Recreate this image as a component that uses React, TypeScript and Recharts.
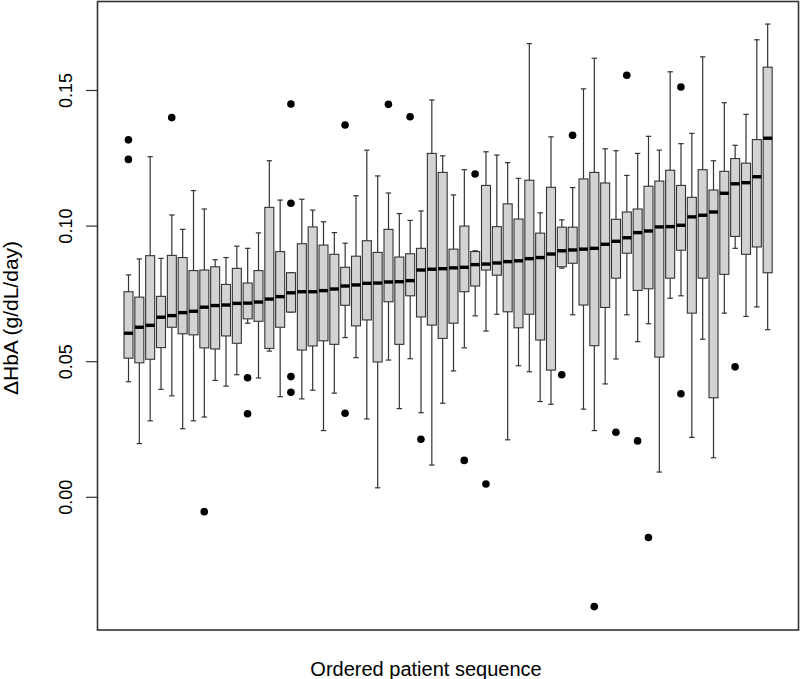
import React from "react";
import { Bar, ComposedChart, Scatter, XAxis, YAxis } from "recharts";

// per-patient box statistics, left to right (ordered by median)
const lows = [
  0.0426, 0.0198, 0.0282, 0.0398, 0.0374, 0.0253, 0.0282, 0.0296, 0.0431, 0.041,
  0.0452, 0.0642, 0.044, 0.0539, 0.0371, 0.0683, 0.0363, 0.0395, 0.0246, 0.0384,
  0.0589, 0.0515, 0.0289, 0.0035, 0.0506, 0.0327, 0.0511, 0.0312, 0.0119, 0.0347,
  0.0466, 0.0551, 0.0669, 0.0613, 0.0675, 0.0212, 0.0485, 0.0463, 0.0353, 0.0343,
  0.0845, 0.0673, 0.0325, 0.0246, 0.0418, 0.051, 0.0673, 0.0574, 0.064, 0.0093,
  0.0734, 0.0743, 0.0221, 0.0583, 0.0146, 0.0679, 0.0918, 0.0667, 0.0702, 0.0618,
];
const q1s = [
  0.0513, 0.0496, 0.0509, 0.0552, 0.0627, 0.0603, 0.0599, 0.0551, 0.0547, 0.0595,
  0.0568, 0.0658, 0.0649, 0.0549, 0.0627, 0.0683, 0.0543, 0.0558, 0.0577, 0.0564,
  0.0708, 0.0632, 0.0654, 0.0499, 0.0721, 0.0564, 0.0743, 0.0665, 0.0635, 0.0586,
  0.0642, 0.0758, 0.0779, 0.0838, 0.0819, 0.0684, 0.0625, 0.0675, 0.058, 0.0469,
  0.085, 0.0863, 0.0709, 0.0559, 0.07, 0.0808, 0.09, 0.0763, 0.0769, 0.0517,
  0.0808, 0.0911, 0.0679, 0.0808, 0.0367, 0.0822, 0.0962, 0.0896, 0.0923, 0.0828,
];
const medians = [
  0.0605, 0.0627, 0.0634, 0.0664, 0.067, 0.0681, 0.0686, 0.0701, 0.0707, 0.0709,
  0.0715, 0.0716, 0.072, 0.0731, 0.074, 0.0754, 0.0758, 0.0758, 0.0762, 0.0768,
  0.0779, 0.0783, 0.0789, 0.079, 0.0794, 0.0795, 0.0799, 0.0838, 0.0841, 0.0843,
  0.0846, 0.0848, 0.0858, 0.086, 0.0864, 0.0869, 0.0872, 0.088, 0.0884, 0.0897,
  0.0909, 0.0912, 0.0915, 0.0918, 0.0933, 0.0944, 0.0957, 0.0976, 0.0982, 0.0997,
  0.0998, 0.1003, 0.1034, 0.104, 0.1052, 0.1121, 0.1156, 0.116, 0.1182, 0.1324,
];
const q3s = [
  0.0758, 0.0738, 0.0891, 0.0741, 0.0892, 0.0884, 0.0836, 0.0838, 0.085, 0.0785,
  0.0844, 0.079, 0.0836, 0.1069, 0.0906, 0.0828, 0.0935, 0.0997, 0.093, 0.0896,
  0.0848, 0.0889, 0.0946, 0.0903, 0.0988, 0.0886, 0.0898, 0.0918, 0.1268, 0.1198,
  0.0915, 0.1, 0.0906, 0.115, 0.0998, 0.1082, 0.1026, 0.1169, 0.0974, 0.1143,
  0.0996, 0.0996, 0.1174, 0.1198, 0.1159, 0.1025, 0.1052, 0.1063, 0.1147, 0.1166,
  0.1206, 0.115, 0.1106, 0.1208, 0.1133, 0.1202, 0.1249, 0.1232, 0.1319, 0.1586,
];
const highs = [
  0.082, 0.0879, 0.1256, 0.0881, 0.1041, 0.0988, 0.1131, 0.1063, 0.0876, 0.0884,
  0.0926, 0.0918, 0.0975, 0.1241, 0.1096, 0.0828, 0.1099, 0.1059, 0.1016, 0.0976,
  0.0937, 0.1112, 0.128, 0.1185, 0.1122, 0.1046, 0.1021, 0.1056, 0.1465, 0.1259,
  0.1115, 0.1208, 0.0909, 0.1274, 0.1262, 0.1234, 0.1176, 0.1673, 0.1049, 0.1329,
  0.1023, 0.1142, 0.1506, 0.1619, 0.1285, 0.1278, 0.1187, 0.1268, 0.1331, 0.128,
  0.1569, 0.1304, 0.1342, 0.1624, 0.1241, 0.1455, 0.1298, 0.1412, 0.1687, 0.1745,
];
// [patient number, value]
const outliers: [number, number][] = [
  [1, 0.1318], [1, 0.1246], [5, 0.14], [8, -0.0053], [12, 0.0441], [12, 0.0308],
  [16, 0.145], [16, 0.1084], [16, 0.0445], [16, 0.0387], [21, 0.1373], [21, 0.031],
  [25, 0.1449], [27, 0.1403], [28, 0.0214], [32, 0.0136], [33, 0.1192], [34, 0.0049],
  [41, 0.0452], [42, 0.1335], [44, -0.0403], [46, 0.024], [47, 0.1556], [48, 0.0208],
  [49, -0.0148], [52, 0.1513], [52, 0.0382], [57, 0.0481],
];
const yTicks = [0, 0.05, 0.1, 0.15];

const OUT_KEYS = ["o1", "o2", "o3", "o4"];
const FONT = "'Liberation Sans', Arial, Helvetica, sans-serif";
const INK = "#333";

const rows = lows.map((lo, i) => {
  const row: any = {
    id: String(i + 1),
    lo,
    q1: q1s[i],
    med: medians[i],
    q3: q3s[i],
    hi: highs[i],
    range: [lo, highs[i]],
  };
  outliers
    .filter(([p]) => p === i + 1)
    .forEach(([, v], k) => {
      row[OUT_KEYS[k]] = v;
    });
  return row;
});

function BoxShape(props: any) {
  const { x, y, width, height, payload } = props;
  if (!payload || !isFinite(y) || !isFinite(height)) return null;
  const { lo, hi, q1, med, q3 } = payload;
  // map a value inside [lo, hi] onto the bar's pixel extent
  const py = (v: number) => y + ((hi - v) / (hi - lo)) * height;
  const cx = x + width / 2;
  const cap = width * 0.3;
  return (
    <g>
      <line x1={cx} x2={cx} y1={py(hi)} y2={py(q3)} stroke={INK} strokeWidth={1.2} />
      <line x1={cx} x2={cx} y1={py(q1)} y2={py(lo)} stroke={INK} strokeWidth={1.2} />
      <line x1={cx - cap} x2={cx + cap} y1={py(hi)} y2={py(hi)} stroke={INK} strokeWidth={1.2} />
      <line x1={cx - cap} x2={cx + cap} y1={py(lo)} y2={py(lo)} stroke={INK} strokeWidth={1.2} />
      <rect x={x} y={py(q3)} width={width} height={py(q1) - py(q3)} fill="#d3d3d3" stroke={INK} strokeWidth={1.1} />
      <line x1={x} x2={x + width} y1={py(med)} y2={py(med)} stroke="#000" strokeWidth={3.4} />
    </g>
  );
}

const dotShape = (key: string) => (p: any) =>
  p.payload?.[key] == null || !isFinite(p.cy) ? <g /> : <circle cx={p.cx} cy={p.cy} r={3.8} fill="#000" />;

function YTick(props: any) {
  const { x, y, payload } = props;
  const tx = x - 12;
  return (
    <text
      x={tx}
      y={y}
      transform={`rotate(-90 ${tx} ${y})`}
      textAnchor="middle"
      fontSize={18}
      fontFamily={FONT}
      fill="#000"
    >
      {payload.value.toFixed(2)}
    </text>
  );
}

export default function App() {
  return (
    <div style={{ position: "absolute", left: 0, top: 0, width: 800, height: 679, background: "#fff" }}>
      <ComposedChart width={800} height={679} data={rows} margin={{ top: 1, right: 1, bottom: 49, left: 0 }}>
        <XAxis dataKey="id" hide padding={{ left: 26, right: 26 }} />
        <YAxis
          type="number"
          width={97}
          domain={[-0.04893, 0.183]}
          allowDataOverflow
          ticks={yTicks}
          tickSize={11}
          axisLine={false}
          tickLine={{ stroke: INK, strokeWidth: 1.2 }}
          tick={<YTick />}
        />
        <Bar dataKey="range" barSize={9} shape={<BoxShape />} isAnimationActive={false} />
        {OUT_KEYS.map((k) => (
          <Scatter key={k} dataKey={k} shape={dotShape(k)} isAnimationActive={false} />
        ))}
      </ComposedChart>
      <svg
        width={800}
        height={679}
        style={{ position: "absolute", left: 0, top: 0, pointerEvents: "none" }}
      >
        <rect x={97.5} y={1.5} width={701} height={628.5} fill="none" stroke={INK} strokeWidth={1.6} />
        <text x={426} y={676} textAnchor="middle" fontSize={20} fontFamily={FONT} fill="#000">
          Ordered patient sequence
        </text>
        <text
          x={18}
          y={318}
          transform="rotate(-90 18 318)"
          textAnchor="middle"
          fontSize={21}
          fontFamily={FONT}
          fill="#000"
        >
          ΔHbA (g/dL/day)
        </text>
      </svg>
    </div>
  );
}
